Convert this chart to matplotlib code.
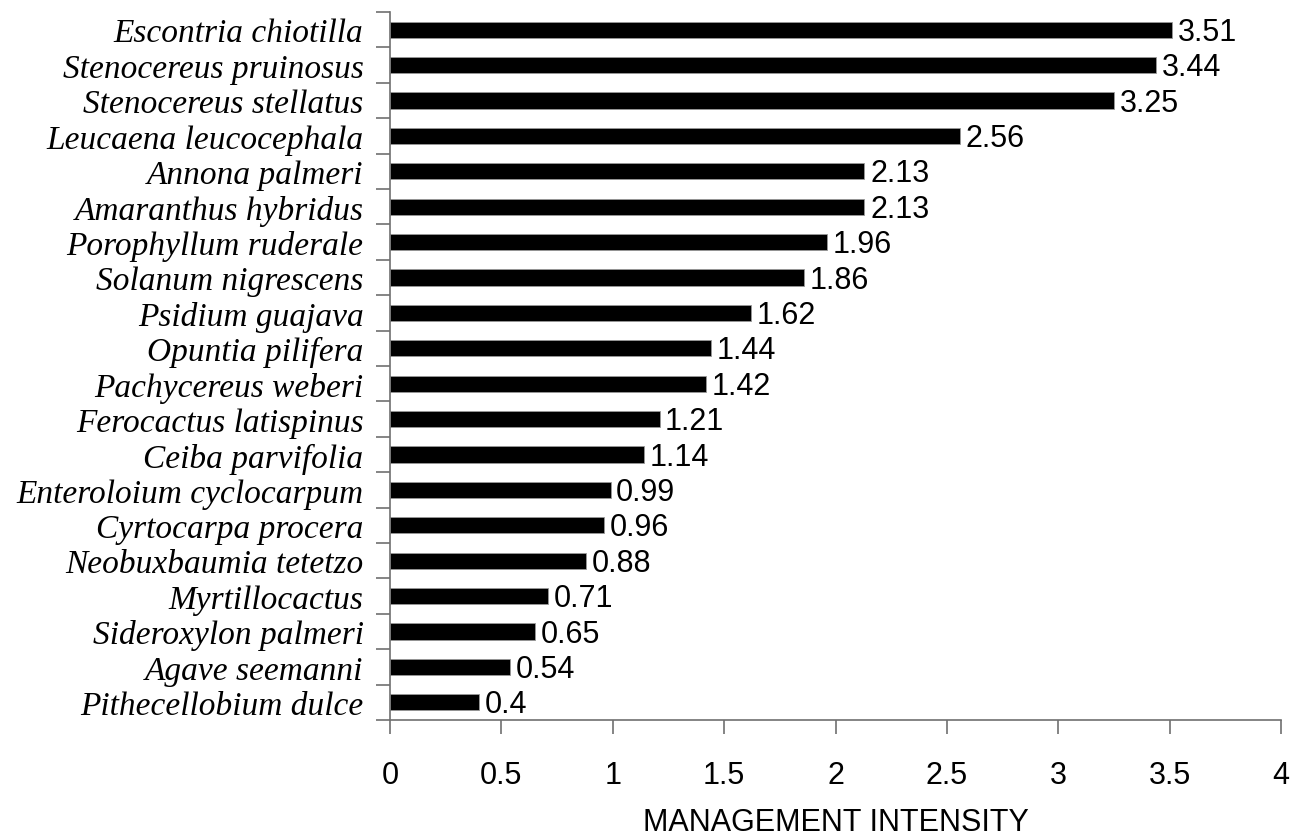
import matplotlib.pyplot as plt
import numpy as np

species = [
    "Escontria chiotilla", "Stenocereus pruinosus", "Stenocereus stellatus",
    "Leucaena leucocephala", "Annona palmeri", "Amaranthus hybridus",
    "Porophyllum ruderale", "Solanum nigrescens", "Psidium guajava",
    "Opuntia pilifera", "Pachycereus weberi", "Ferocactus latispinus",
    "Ceiba parvifolia", "Enteroloium cyclocarpum", "Cyrtocarpa procera",
    "Neobuxbaumia tetetzo", "Myrtillocactus", "Sideroxylon palmeri",
    "Agave seemanni", "Pithecellobium dulce",
]
intensity = [3.51, 3.44, 3.25, 2.56, 2.13, 2.13, 1.96, 1.86, 1.62, 1.44,
             1.42, 1.21, 1.14, 0.99, 0.96, 0.88, 0.71, 0.65, 0.54, 0.4]
value_labels = ["3.51", "3.44", "3.25", "2.56", "2.13", "2.13", "1.96", "1.86",
                "1.62", "1.44", "1.42", "1.21", "1.14", "0.99", "0.96", "0.88",
                "0.71", "0.65", "0.54", "0.4"]

fig = plt.figure(figsize=(12.95, 8.37), dpi=100)
ax = fig.add_axes([390 / 1295, 1 - 721 / 837, (1281 - 390) / 1295, (721 - 13) / 837])

n = len(species)
ypos = np.arange(n)[::-1]
ax.barh(ypos, intensity, height=0.46, color="black", edgecolor="#999999", linewidth=0.6)

for y, v, lab in zip(ypos, intensity, value_labels):
    ax.text(v + 0.025, y - 0.06, lab, ha="left", va="center",
            fontsize=22, family="Liberation Sans")

ax.set_xlim(0, 4)
ax.set_ylim(-0.5, n - 0.5)
ax.set_xticks(np.arange(0, 4.01, 0.5))
ax.set_xticklabels(["0", "0.5", "1", "1.5", "2", "2.5", "3", "3.5", "4"],
                   fontsize=22, family="Liberation Sans")
# gridline-style ticks at category boundaries, labels in the middle
ax.set_yticks(np.arange(-0.5, n, 1.0))
ax.set_yticklabels([])
ax.set_yticks(ypos, minor=True)
ax.set_yticklabels(species, minor=True, fontsize=24, family="Liberation Serif",
                   style="italic")
ax.tick_params(axis="y", which="minor", length=0, pad=19)
ax.tick_params(axis="y", which="major", length=10, color="#707070", width=1.2)
ax.tick_params(axis="x", length=10, color="#707070", width=1.2, pad=19)

for side in ["top", "right"]:
    ax.spines[side].set_visible(False)
for side in ["left", "bottom"]:
    ax.spines[side].set_color("#707070")
    ax.spines[side].set_linewidth(1.2)

ax.set_xlabel("MANAGEMENT INTENSITY", fontsize=22, family="Liberation Sans", labelpad=12)

fig.savefig("out.png", dpi=100)
